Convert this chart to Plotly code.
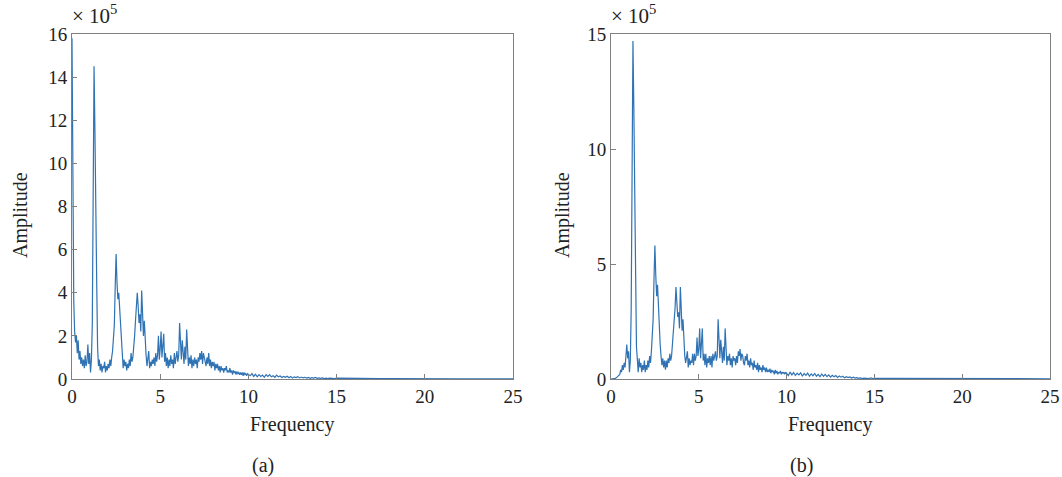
import numpy as np
import plotly.graph_objects as go

# Frequency grid: fine up to 10 Hz, medium to 15 Hz, coarse to 25 Hz
freq = np.round(np.concatenate([
    np.arange(0, 10.0001, 0.05),
    np.arange(10.1, 15.0001, 0.1),
    np.arange(15.5, 25.0001, 0.5),
]), 3)

# Amplitude spectrum (a), in units of 1e5
amp_a = [
    15.8, 6.0, 3.6, 2.2, 1.7, 2.0, 1.2, 1.8, 0.9, 1.3,
    0.7, 1.0, 0.6, 0.9, 0.5, 1.1, 0.6, 0.8, 1.6, 0.7,
    1.2, 0.3, 0.9, 2.5, 8.0, 14.5, 11.5, 6.6, 4.5, 1.5,
    0.6, 0.9, 0.4, 0.7, 0.3, 0.6, 0.5, 0.8, 0.3, 0.6,
    0.4, 0.7, 0.5, 0.9, 0.6, 1.0, 1.3, 1.9, 2.5, 4.3,
    5.8, 4.5, 3.7, 4.0, 3.2, 2.4, 1.6, 1.1, 0.5, 0.9,
    0.6, 0.8, 0.4, 0.7, 0.5, 0.9, 0.6, 1.2, 0.8, 1.0,
    1.4, 2.0, 2.7, 3.2, 4.0, 3.4, 2.6, 3.0, 2.2, 4.1,
    2.9, 2.0, 2.7, 1.6, 1.1, 0.6, 0.9, 1.3, 0.5, 0.8,
    0.6, 0.9, 0.7, 1.0, 0.6, 1.2, 0.8, 1.1, 2.0, 0.9,
    1.4, 2.2, 1.0, 1.6, 2.1, 0.8, 1.2, 0.6, 1.0, 0.5,
    0.9, 0.6, 1.1, 0.7, 0.9, 0.5, 1.2, 0.7, 1.0, 1.3,
    0.8, 1.1, 2.6, 1.2, 0.9, 1.8, 1.0, 0.7, 1.5, 0.9,
    2.3, 1.1, 0.6, 1.0, 0.7, 1.1, 0.5, 0.9, 0.6, 1.0,
    0.7, 0.9, 0.5, 1.0, 0.8, 1.2, 0.9, 1.3, 0.7, 1.2,
    1.0, 0.8, 0.6, 1.0, 0.7, 1.2, 0.6, 0.9, 0.5, 0.8,
    0.6, 0.8, 0.4, 0.7, 0.5, 0.7, 0.4, 0.6, 0.3, 0.6,
    0.4, 0.5, 0.3, 0.5, 0.4, 0.6, 0.3, 0.4, 0.3, 0.5,
    0.3, 0.4, 0.2, 0.4, 0.3, 0.35, 0.2, 0.35, 0.25, 0.3,
    0.2, 0.3, 0.2, 0.3, 0.15, 0.3, 0.2, 0.25, 0.15, 0.25,
    0.2,
    0.15, 0.25, 0.12, 0.22, 0.1, 0.2, 0.12, 0.18, 0.08, 0.2,
    0.12, 0.2, 0.1, 0.15, 0.08, 0.18, 0.1, 0.14, 0.07, 0.12,
    0.08, 0.13, 0.06, 0.12, 0.05, 0.1, 0.07, 0.11, 0.05, 0.09,
    0.05, 0.08, 0.04, 0.07, 0.03, 0.06, 0.04, 0.07, 0.03, 0.05,
    0.03, 0.05, 0.02, 0.04, 0.02, 0.04, 0.03, 0.05, 0.02, 0.04,
    0.03, 0.02, 0.03, 0.02, 0.02, 0.02, 0.015, 0.02, 0.015, 0.01,
    0.015, 0.01, 0.01, 0.01, 0.01, 0.01, 0.01, 0.01, 0.01, 0.01,
]

# Amplitude spectrum (b), in units of 1e5
amp_b = [
    0.0, 0.0, 0.0, 0.01, 0.02, 0.03, 0.05, 0.08, 0.1, 0.15,
    0.2, 0.4, 0.3, 0.6, 0.4, 0.7, 0.5, 1.0, 1.5, 0.9,
    1.2, 0.3, 0.8, 3.0, 9.5, 14.7, 11.8, 6.5, 4.8, 1.4,
    0.8, 0.3, 0.9, 0.5, 0.7, 0.3, 0.6, 0.4, 0.8, 0.3,
    0.6, 0.4, 0.8, 0.5, 1.0, 0.7, 1.2, 1.8, 2.6, 4.4,
    5.8, 4.5, 3.6, 4.1, 3.1, 2.3, 1.5, 1.0, 0.6, 0.9,
    0.5, 0.8, 0.4, 0.8, 0.5, 0.9, 0.7, 1.1, 0.8, 1.0,
    1.5, 1.9, 2.8, 3.1, 4.0, 3.3, 2.7, 2.9, 2.2, 4.0,
    3.0, 2.1, 2.6, 1.5, 1.0, 0.7, 0.9, 1.2, 0.5, 0.9,
    0.6, 0.8, 0.7, 1.1, 0.6, 1.1, 0.8, 1.0, 1.8, 1.0,
    1.3, 2.2, 0.9, 1.5, 2.2, 0.8, 1.1, 0.6, 1.1, 0.5,
    0.9, 0.7, 1.0, 0.6, 1.0, 0.5, 1.1, 0.8, 1.0, 1.2,
    0.8, 1.0, 2.6, 1.3, 0.9, 1.7, 1.1, 0.7, 1.4, 0.8,
    2.2, 1.2, 0.6, 1.0, 0.8, 1.1, 0.6, 0.9, 0.5, 1.0,
    0.8, 0.9, 0.6, 1.0, 0.7, 1.2, 1.0, 1.3, 0.8, 1.1,
    1.0, 0.7, 0.6, 1.0, 0.8, 1.1, 0.6, 0.8, 0.5, 0.9,
    0.6, 0.7, 0.4, 0.8, 0.5, 0.6, 0.4, 0.7, 0.3, 0.6,
    0.4, 0.5, 0.3, 0.6, 0.4, 0.5, 0.3, 0.5, 0.3, 0.4,
    0.3, 0.45, 0.25, 0.4, 0.3, 0.35, 0.2, 0.4, 0.25, 0.35,
    0.2, 0.3, 0.25, 0.35, 0.2, 0.3, 0.25, 0.3, 0.2, 0.3,
    0.25,
    0.15, 0.3, 0.18, 0.28, 0.15, 0.25, 0.18, 0.27, 0.12, 0.24,
    0.16, 0.26, 0.12, 0.22, 0.14, 0.24, 0.12, 0.2, 0.1, 0.22,
    0.12, 0.2, 0.1, 0.18, 0.08, 0.16, 0.1, 0.15, 0.07, 0.13,
    0.08, 0.12, 0.05, 0.1, 0.06, 0.09, 0.04, 0.08, 0.04, 0.06,
    0.03, 0.05, 0.02, 0.04, 0.03, 0.04, 0.02, 0.05, 0.02, 0.03,
    0.03, 0.02, 0.02, 0.02, 0.02, 0.015, 0.015, 0.01, 0.015, 0.01,
    0.01, 0.01, 0.01, 0.01, 0.01, 0.01, 0.01, 0.01, 0.01, 0.01,
]

x_ticks = [0, 5, 10, 15, 20, 25]
y_ticks_a = [0, 2, 4, 6, 8, 10, 12, 14, 16]
y_ticks_b = [0, 5, 10, 15]
panel_labels = ["(a)", "(b)"]

W, H = 1062, 477
LINE = "#2f73b4"
AXIS = "#808080"
FONT = "Liberation Serif"

fig = go.Figure()
fig.add_trace(go.Scatter(x=freq, y=amp_a, mode="lines",
                         line=dict(color=LINE, width=1.2), xaxis="x", yaxis="y"))
fig.add_trace(go.Scatter(x=freq, y=amp_b, mode="lines",
                         line=dict(color=LINE, width=1.2), xaxis="x2", yaxis="y2"))

ydom = [(H - 379) / H, (H - 34) / H]
axis_common = dict(showline=True, linecolor=AXIS, linewidth=1, mirror=True,
                   ticks="inside", ticklen=5, tickcolor=AXIS, showgrid=False,
                   zeroline=False, automargin=False,
                   tickfont=dict(family=FONT, size=19, color="#222"))

fig.update_layout(
    width=W, height=H, margin=dict(l=0, r=0, t=0, b=0),
    paper_bgcolor="white", plot_bgcolor="white", showlegend=False,
    xaxis=dict(domain=[72 / W, 513 / W], range=[0, 25], tickvals=x_ticks,
               anchor="y", **axis_common),
    yaxis=dict(domain=ydom, range=[0, 16], tickvals=y_ticks_a,
               anchor="x", **axis_common),
    xaxis2=dict(domain=[611 / W, 1050 / W], range=[0, 25], tickvals=x_ticks,
                anchor="y2", **axis_common),
    yaxis2=dict(domain=ydom, range=[0, 15], tickvals=y_ticks_b,
                anchor="x2", **axis_common),
)

def px(x, y):
    return dict(x=x / W, y=1 - y / H, xref="paper", yref="paper")

txt = dict(family=FONT, size=20, color="#222")
annos = []
for cx, ax_x, lbl in [(292, 20, panel_labels[0]), (830, 562, panel_labels[1])]:
    annos.append(dict(text="Frequency", showarrow=False, font=txt,
                      xanchor="center", yanchor="middle", **px(cx, 424)))
    annos.append(dict(text=lbl, showarrow=False, font=txt,
                      xanchor="center", yanchor="middle", **px(cx - 29, 465)))
    annos.append(dict(text="Amplitude", showarrow=False, font=txt, textangle=-90,
                      xanchor="center", yanchor="middle", **px(ax_x, 215)))
for x0 in (72, 611):
    annos.append(dict(text="× 10<sup>5</sup>", showarrow=False,
                      font=dict(family=FONT, size=21, color="#222"),
                      xanchor="left", yanchor="middle", **px(x0 - 2, 15)))
fig.update_layout(annotations=annos)

fig.write_html("out.html")
